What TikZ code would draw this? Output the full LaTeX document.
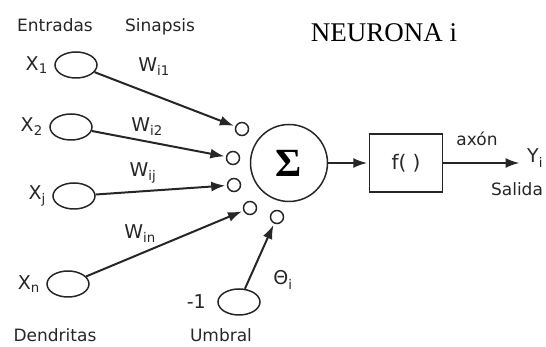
\documentclass[tikz,border=0pt]{standalone}
\usepackage{fontspec}
\setmainfont{Liberation Serif}
\setsansfont{DejaVu Sans}
\usetikzlibrary{arrows.meta,positioning,shapes.geometric}

\begin{document}
\begin{tikzpicture}[
  x=1pt,y=1pt,
  font=\sffamily\fontsize{17}{17}\selectfont,text=black!85,
  line/.style={line width=2pt,draw=black!85,-{Latex[length=14pt,width=10pt]},shorten >=1.5pt},
  input/.style={ellipse,draw=black!85,line width=1.5pt,minimum width=42pt,minimum height=26pt,inner sep=0pt},
  synapse/.style={circle,draw=black!85,line width=1.5pt,minimum size=13pt,inner sep=0pt},
  soma/.style={circle,draw=black!85,line width=1.5pt,minimum size=77pt,inner sep=0pt,font=\rmfamily\bfseries\fontsize{40}{40}\selectfont,text=black},
  block/.style={rectangle,draw=black!85,line width=1.5pt,minimum width=73pt,minimum height=58pt,font=\sffamily\fontsize{20}{20}\selectfont},
  var/.style={font=\sffamily\fontsize{19}{19}\selectfont},
  caption/.style={anchor=base,font=\sffamily\fontsize{17}{17}\selectfont}
]
\useasboundingbox (0,0) rectangle (546,347);
\node[soma] (sum) at (289,184) {Σ};
\node[block] (act) at (406,184) {f( )};
\coordinate (axon) at (521,184);
\node[synapse] (s1) at (242,218) {};
\node[synapse] (s2) at (233,189) {};
\node[synapse] (s3) at (234,162) {};
\node[synapse] (s4) at (250,139) {};
\node[synapse] (s5) at (277,130) {};
\node[input] (x1) at (76,282) {};
\node[input] (x2) at (71,220) {};
\node[input] (xj) at (74,151) {};
\node[input] (xn) at (68,63) {};
\node[input] (bias) at (239,45) {};
\node[var,left=3pt of x1] (x1label) {X\textsubscript{1}};
\node[var,left=3pt of x2] (x2label) {X\textsubscript{2}};
\node[var,left=3pt of xj] (xjlabel) {X\textsubscript{j}};
\node[var,left=3pt of xn] (xnlabel) {X\textsubscript{n}};
\node[var,left=8pt of bias] (biaslabel) {-1};
\node[var] (w1) at (154,280) {W\textsubscript{i1}};
\node[var] (w2) at (147,220) {W\textsubscript{i2}};
\node[var] (wj) at (143,174) {W\textsubscript{ij}};
\node[var] (wn) at (140,113) {W\textsubscript{in}};
\node[var] (theta) at (283,67) {Θ\textsubscript{i}};
\node[font=\rmfamily\fontsize{27}{27}\selectfont,text=black,anchor=base] (title) at (384,305) {NEURONA i};
\node[caption] (entradas) at (55,315) {Entradas};
\node[caption] (sinapsis) at (160,315) {Sinapsis};
\node[caption] (dendritas) at (55,5) {Dendritas};
\node[caption] (umbral) at (221,5) {Umbral};
\node[caption] (axonlabel) at (477,201) {axón};
\node[caption] (salida) at (517,151) {Salida};
\node[var,anchor=base west,inner sep=0pt] (out) at ([xshift=6pt]axon) {Y\textsubscript{i}};
\draw[line] (x1) -- (s1);
\draw[line] (x2) -- (s2);
\draw[line] (xj) -- (s3);
\draw[line] (xn) -- (s4);
\draw[line] (bias) -- (s5);
\draw[line] (sum) -- (act);
\draw[line] (act) -- (axon);
\end{tikzpicture}
\end{document}
